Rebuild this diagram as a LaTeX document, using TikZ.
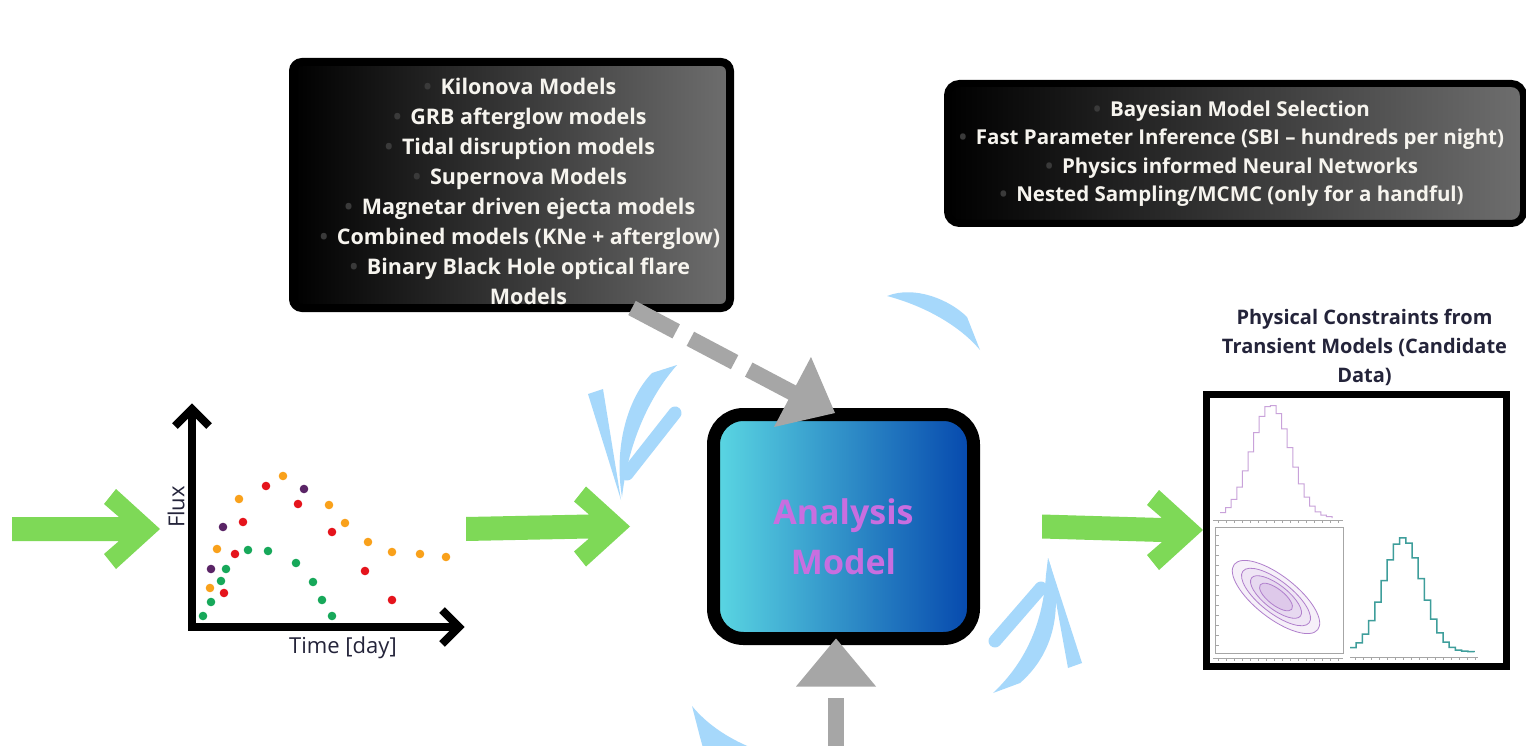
\documentclass[tikz,border=0pt]{standalone}
\usepackage{fontspec}
\setmainfont{Open Sans}
\usetikzlibrary{positioning,calc,arrows.meta}

\definecolor{flowgreen}{HTML}{7ED957}
\definecolor{cycleblue}{HTML}{A6D8FB}
\definecolor{linkgray}{HTML}{A6A6A6}
\definecolor{boxgray}{HTML}{6E6E6E}
\definecolor{boxink}{HTML}{F6F4EE}
\definecolor{bulletgray}{HTML}{3A3A3A}
\definecolor{modelcyan}{HTML}{5BD8E3}
\definecolor{modelblue}{HTML}{0547AD}
\definecolor{modelink}{HTML}{C86EE0}
\definecolor{inkdark}{HTML}{24243A}
\definecolor{ptorange}{HTML}{F9A11B}
\definecolor{ptred}{HTML}{E5141C}
\definecolor{ptpurple}{HTML}{5A2466}
\definecolor{ptgreen}{HTML}{17A85A}
\definecolor{histpurple}{HTML}{C9A2DA}
\definecolor{histteal}{HTML}{3E9E9B}
\definecolor{contourpurple}{HTML}{B07FCC}

\newcommand{\itemdot}{\llap{\textcolor{bulletgray}{\textbullet}\hspace{9pt}}}

\tikzset{
  darkbox/.style={draw=black, line width=8pt, rounded corners=9pt,
    left color=black, right color=boxgray, inner sep=0pt},
  boxtext/.style={text=boxink, font=\fontsize{21.5}{30}\selectfont\bfseries,
    align=center, inner sep=0pt},
  flow/.style={fill=flowgreen, to path={
      ($(\tikztostart)+(0,-12)$) -- ($(\tikztotarget)+(-41,-12)$)
      -- ($(\tikztotarget)+(-56,-25)$) -- ($(\tikztotarget)+(-44,-40)$)
      -- (\tikztotarget) -- ($(\tikztotarget)+(-44,40)$)
      -- ($(\tikztotarget)+(-56,25)$) -- ($(\tikztotarget)+(-41,12)$)
      -- ($(\tikztostart)+(0,12)$) -- cycle}},
  dashlink/.style={draw=linkgray, line width=16pt, dash pattern=on 50pt off 16pt},
  model/.style={draw=black, line width=13pt, rounded corners=30pt,
    left color=modelcyan, right color=modelblue, minimum width=260pt,
    minimum height=224pt, outer sep=0pt},
  modeltext/.style={text=modelink, align=center, inner sep=0pt,
    font=\fontsize{34}{50}\selectfont\bfseries},
  axisline/.style={line width=8pt, line join=miter},
  axislabel/.style={text=inkdark, font=\fontsize{22}{26}\selectfont, inner sep=0pt},
  posttitle/.style={text=inkdark, font=\fontsize{20}{29}\selectfont\bfseries,
    align=center, inner sep=0pt},
  axgray/.style={draw=gray!70, line width=0.7pt},
  barbstroke/.style={cycleblue, line width=13pt, line cap=round}
}

\begin{document}
\begin{tikzpicture}[x=1pt, y=-1pt]
  \useasboundingbox[fill=white] (0,0) rectangle (1526,746);

  % Model families
  \node[darkbox, minimum width=437pt, minimum height=246pt] (models) at (511.5,185) {};
  \node[boxtext] (modellist) at ([xshift=17pt,yshift=-6pt]models.center) {%
    \itemdot Kilonova Models\\
    \itemdot GRB afterglow models\\
    \itemdot Tidal disruption models\\
    \itemdot Supernova Models\\
    \itemdot Magnetar driven ejecta models\\
    \itemdot Combined models (KNe + afterglow)\\
    \itemdot Binary Black Hole optical flare\\
    Models};

  % Inference methods
  \node[darkbox, line width=7pt, rounded corners=12pt, minimum width=576pt,
    minimum height=140pt] (methods) at (1235.5,153.5) {};
  \node[boxtext, font=\fontsize{20.5}{28.5}\selectfont\bfseries] (methodlist)
    at ([xshift=4.5pt]methods.center) {%
    \itemdot Bayesian Model Selection\\
    \itemdot Fast Parameter Inference (SBI – hundreds per night)\\
    \itemdot Physics informed Neural Networks\\
    \itemdot Nested Sampling/MCMC (only for a handful)};

  % Light curve
  \node[minimum width=306pt, minimum height=260pt, inner sep=0pt, outer sep=0pt] (curve) at (313,529) {};
  \draw[axisline] (175,426) -- (192,409) -- (209,426);
  \draw[axisline] (192,409) -- (192,627) -- (459,627);
  \draw[axisline] (442,610) -- (459,627) -- (442,644);
  \node[axislabel, rotate=90] (fluxlabel) at (176,507) {Flux};
  \node[axislabel] (timelabel) at (343,648) {Time [day]};
  \foreach \p in {(283,476),(239,499),(329,505),(345,523),(217,549),(210,588),(368,542),(392,552),(420,554),(446,557)}
    \fill[ptorange] \p circle (4.3);
  \foreach \p in {(266,486),(298,504),(243,522),(332,532),(235,554),(224,593),(365,571),(392,600)}
    \fill[ptred] \p circle (4.3);
  \foreach \p in {(304,489),(223,527),(211,569)}
    \fill[ptpurple] \p circle (4.3);
  \foreach \p in {(248,550),(268,551),(226,569),(221,581),(211,602),(203,616),(296,563),(313,582),(322,600),(332,616)}
    \fill[ptgreen] \p circle (4.3);

  % Analysis model
  \node[model] (model) at (843.5,526.5) {};
  \node[modeltext] (modelname) at ([yshift=-10pt]model.center) {Analysis\\Model};

  % Posterior corner plot
  \node[draw, line width=7pt, minimum width=300pt, minimum height=272pt] (post) at (1356.5,530) {};
  \node[posttitle, above=5pt of post, xshift=8pt] (posthead)
    {Physical Constraints from\\Transient Models (Candidate\\Data)};
  \draw[histpurple, line width=1pt] plot[const plot, samples=21, domain=1220:1332]
    (\x,{518-113*exp(-((\x+2.8-1271)^2)/760)}) -- (1332,518);
  \draw[axgray] (1213,520) -- (1343,520);
  \foreach \t in {1218,1226,...,1338} \draw[axgray] (\t,520) -- (\t,523);
  \draw[axgray] (1215,527) rectangle (1343,653);
  \foreach \t in {535,545,...,645} \draw[axgray] (1215,\t) -- (1219,\t);
  \draw[axgray] (1213,658) -- (1343,658);
  \foreach \t in {1218,1226,...,1338} \draw[axgray] (\t,658) -- (\t,661);
  \begin{scope}[shift={(1276,597)}, rotate=-38]
    \foreach \a/\b/\s in {53/21/12, 42/16/20, 31/12/30, 20/8/42}
      \filldraw[fill=contourpurple!\s, draw=contourpurple, line width=0.8pt] (0,0) ellipse ({\a} and {\b});
  \end{scope}
  \draw[histteal, line width=1.5pt] plot[const plot, samples=21, domain=1350:1474]
    (\x,{652-114*exp(-((\x+3.1-1403)^2)/760)}) -- (1474,652);
  \draw[axgray] (1350,657) -- (1478,657);
  \foreach \t in {1355,1363,...,1475} \draw[axgray] (\t,657) -- (\t,660);

  % Flow arrows
  \coordinate (feed) at (12,529);
  \coordinate (tomodel) at ([xshift=-83.5pt]model.west);
  \coordinate (frommodel) at ([xshift=68.5pt]model.east);
  \path[flow] (feed) to (curve.west);
  \path[flow] (curve.east) to (tomodel);
  \path[flow] (frommodel) to (post.west);

  % Model inputs
  \coordinate (dashend) at (793,393);
  \draw[dashlink] ([xshift=120.5pt,yshift=4pt]models.south) -- (dashend);
  \fill[linkgray] (811,357) -- (774,427) -- (835,413) -- cycle;
  \coordinate (feedup) at (836,748);
  \draw[dashlink, -{Triangle[length=48pt, width=80pt, line width=0pt]}]
    (feedup) -- ([xshift=-7.5pt]model.south);

  % Cycle around the model
  \fill[cycleblue] (887,296) .. controls (915,285) and (950,300) .. (967,317)
    -- (980,350) .. controls (960,326) and (925,306) .. (887,296) -- cycle;
  \fill[cycleblue] (652,373) -- (677,365) .. controls (648,398) and (628,445) .. (622,497)
    .. controls (614,450) and (626,400) .. (652,373) -- cycle;
  \fill[cycleblue] (621,500) -- (588,394) -- (603,389) -- cycle;
  \draw[barbstroke] (675,413) -- (627,474);
  \fill[cycleblue] (1048,558) .. controls (1063,600) and (1058,650) .. (1020,683)
    -- (993,693) .. controls (1028,660) and (1043,620) .. (1046,575) -- cycle;
  \fill[cycleblue] (1048,558) -- (1082,663) -- (1068,668) -- cycle;
  \draw[barbstroke] (995,641) -- (1041,588);
  \fill[cycleblue] (692,706) .. controls (705,722) and (725,737) .. (752,748)
    -- (703,748) -- (700,737) -- cycle;
\end{tikzpicture}
\end{document}
